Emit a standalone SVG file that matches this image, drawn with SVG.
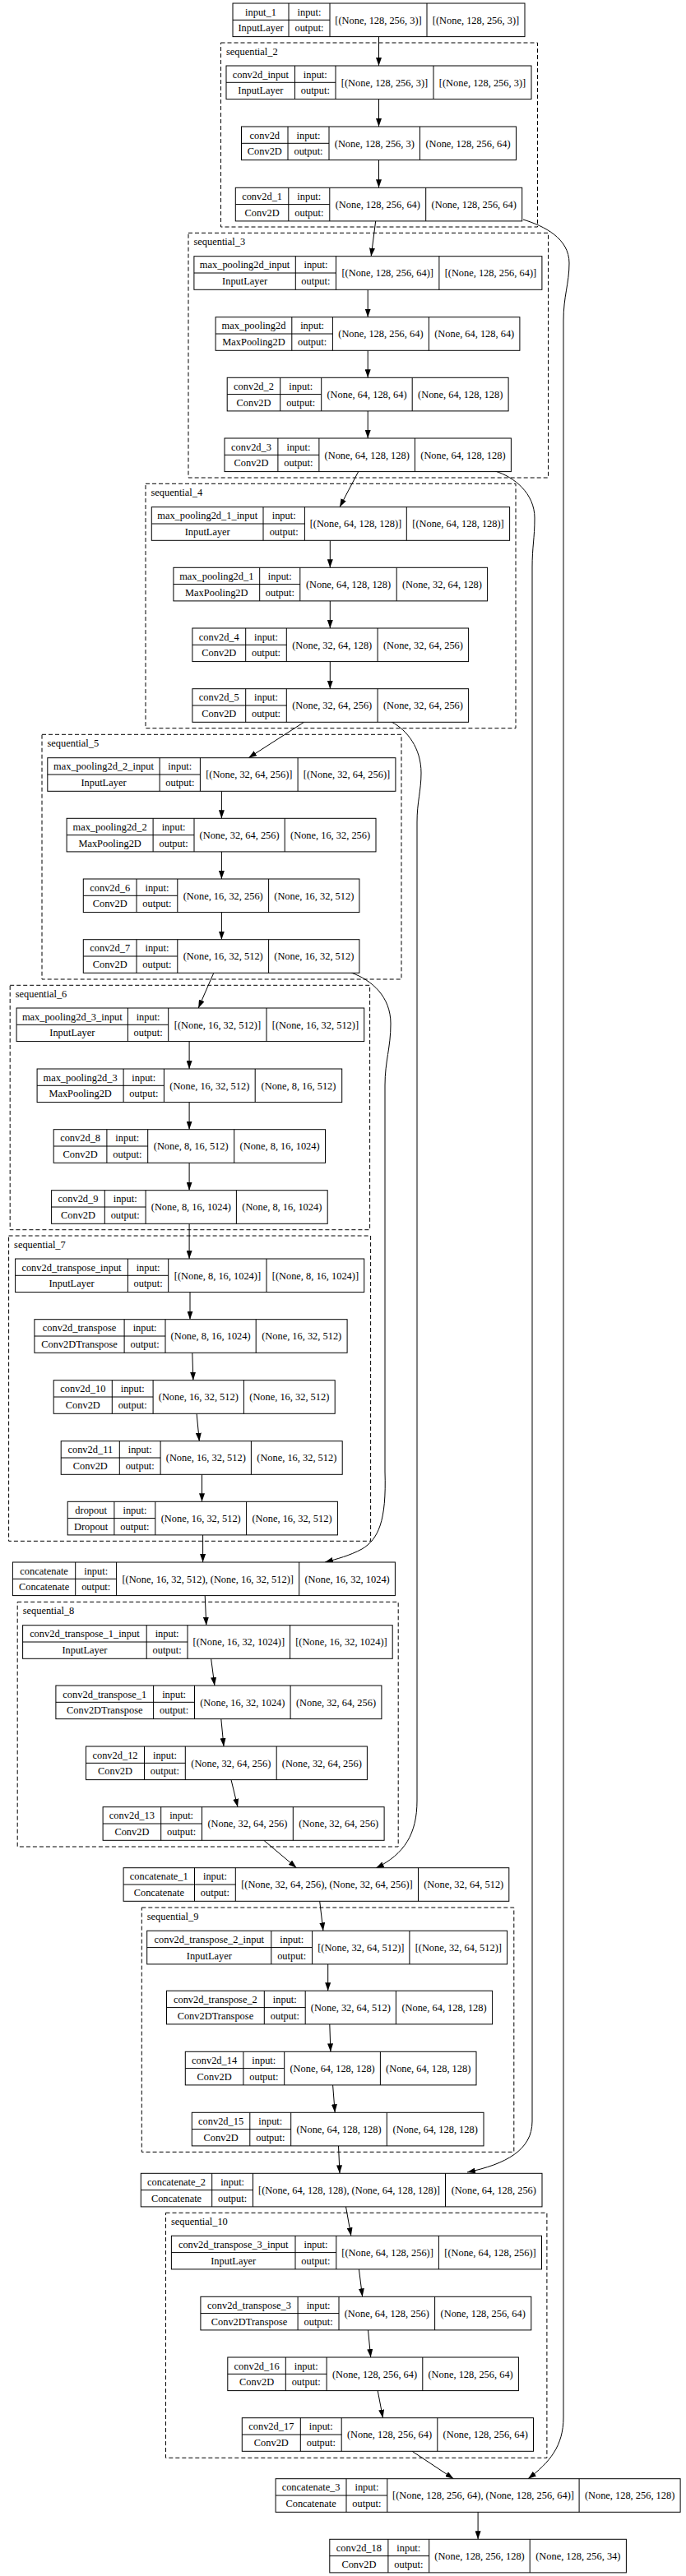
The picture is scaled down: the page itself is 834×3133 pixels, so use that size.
<svg xmlns="http://www.w3.org/2000/svg" width="834" height="3133" viewBox="0 0 834 3133">
<style>
text{font-family:"Liberation Serif","Times New Roman",serif;font-size:12.4px;fill:#000;text-anchor:middle}
.cl rect{fill:none;stroke:#000;stroke-width:1;stroke-dasharray:5,3}
.cl text{text-anchor:start}
.node rect{fill:#fff;stroke:#000;stroke-width:1}
.node path{fill:none;stroke:#000;stroke-width:1}
.edges path{fill:none;stroke:#000;stroke-width:1;marker-end:url(#ah)}
</style>
<defs>
<marker id="ah" markerWidth="10" markerHeight="7" refX="10" refY="3.5" orient="auto" markerUnits="userSpaceOnUse"><path d="M0,0L10,3.5L0,7z" fill="#000"/></marker>
</defs>
<rect width="834" height="3133" fill="#fff"/>
<g id="clusters">
<g id="sequential_2" class="cl"><rect x="268.5" y="52" width="385" height="224"/><text x="275" y="66.7">sequential_2</text></g>
<g id="sequential_3" class="cl"><rect x="229" y="283.3" width="437.5" height="297.7"/><text x="235.5" y="298">sequential_3</text></g>
<g id="sequential_4" class="cl"><rect x="177" y="588.3" width="450" height="297.4"/><text x="183.5" y="603">sequential_4</text></g>
<g id="sequential_5" class="cl"><rect x="51" y="893.3" width="437" height="297.7"/><text x="57.5" y="908">sequential_5</text></g>
<g id="sequential_6" class="cl"><rect x="12.2" y="1198.3" width="437.4" height="297.4"/><text x="18.7" y="1213">sequential_6</text></g>
<g id="sequential_7" class="cl"><rect x="10.6" y="1503" width="440" height="371.3"/><text x="17.1" y="1517.7">sequential_7</text></g>
<g id="sequential_8" class="cl"><rect x="21.2" y="1948.3" width="463" height="297.7"/><text x="27.7" y="1963">sequential_8</text></g>
<g id="sequential_9" class="cl"><rect x="172.3" y="2320" width="452.5" height="297.3"/><text x="178.8" y="2334.7">sequential_9</text></g>
<g id="sequential_10" class="cl"><rect x="201.5" y="2691.3" width="463.4" height="298"/><text x="208" y="2706">sequential_10</text></g>
</g>
<g id="connectors" class="edges">
<path d="M460.5,44.6L460.5,80"/>
<path d="M460.5,120.6L460.5,154"/>
<path d="M460.5,194.6L460.5,228.3"/>
<path d="M456.7,268.9L451.2,311.7"/>
<path d="M447.2,352.3V385.7"/>
<path d="M447.2,426.3V459.3"/>
<path d="M447.2,499.9V533"/>
<path d="M435.7,573.6L413,616.7"/>
<path d="M401.3,657.3V690.3"/>
<path d="M401.3,730.9V764"/>
<path d="M401.3,804.6V837.7"/>
<path d="M369.6,878.3L302.2,921.7"/>
<path d="M269.4,962.3V995.3"/>
<path d="M269.4,1035.9V1069"/>
<path d="M269.4,1109.6V1142.7"/>
<path d="M259.8,1183.3L241.2,1226"/>
<path d="M230.1,1266.6V1300"/>
<path d="M230.1,1340.6V1373.7"/>
<path d="M230.1,1414.3V1447.7"/>
<path d="M230.1,1488.3V1531"/>
<path d="M231,1571.6V1604.7"/>
<path d="M233.8,1645.3L234.9,1678.7"/>
<path d="M239.1,1719.3L242.3,1752.7"/>
<path d="M245.5,1793.3V1826.3"/>
<path d="M246.6,1866.9V1900"/>
<path d="M249.2,1940.6L250.8,1976.7"/>
<path d="M256.6,2017.3L260.9,2050"/>
<path d="M268.8,2090.6L272,2124"/>
<path d="M281,2164.6L289,2197.7"/>
<path d="M320.8,2238.3L360.5,2271.7"/>
<path d="M388.7,2312.3L392.9,2348.3"/>
<path d="M398.7,2388.9V2421.3"/>
<path d="M400.8,2461.9L401.9,2495.3"/>
<path d="M404.6,2535.9L407.2,2569.3"/>
<path d="M411.5,2609.9L413,2643.3"/>
<path d="M420.5,2683.9L426.8,2719.3"/>
<path d="M436.4,2759.9L440.6,2793.3"/>
<path d="M447.5,2833.9L450.7,2867"/>
<path d="M459.2,2907.6L465.5,2940.7"/>
<path d="M501.1,2981.3L551.4,3014.7"/>
<path d="M581.1,3055.3V3088.3"/>
<path d="M636,267C662,275 692,290 692,320C692,345 685,360 685,390L685,2940C685,2975 668,2995 642,3014.7"/>
<path d="M602,573C625,580 650,600 650,630C650,655 647,665 647,690L647,2580C647,2615 615,2632 568,2642"/>
<path d="M476,878C495,888 512,910 512,940C512,962 507,975 507,1000L507,2190C507,2230 492,2255 457,2272"/>
<path d="M427,1183C452,1192 475,1212 475,1245C475,1275 468,1290 468,1320L468,1790C470,1850 460,1872 440,1884C425,1892 410,1896 395,1900"/>
</g>
<g id="nodes">
<g id="input_1" class="node"><rect x="283" y="4" width="355" height="40.6"/><path d="M351 4v40.6M401 4v40.6M519 4v40.6M283 24.3h118"/><text x="317" y="18.6">input_1</text><text x="317" y="38.3">InputLayer</text><text x="376" y="18.6">input:</text><text x="376" y="38.3">output:</text><text x="460" y="28.6">[(None, 128, 256, 3)]</text><text x="578.5" y="28.6">[(None, 128, 256, 3)]</text></g>
<g id="conv2d_input" class="node"><rect x="275" y="80" width="371" height="40.6"/><path d="M358.5 80v40.6M408 80v40.6M527 80v40.6M275 100.3h133"/><text x="316.8" y="94.6">conv2d_input</text><text x="316.8" y="114.3">InputLayer</text><text x="383.3" y="94.6">input:</text><text x="383.3" y="114.3">output:</text><text x="467.5" y="104.6">[(None, 128, 256, 3)]</text><text x="586.5" y="104.6">[(None, 128, 256, 3)]</text></g>
<g id="conv2d" class="node"><rect x="293.5" y="154" width="334" height="40.6"/><path d="M350 154v40.6M400 154v40.6M510.5 154v40.6M293.5 174.3h106.5"/><text x="321.8" y="168.6">conv2d</text><text x="321.8" y="188.3">Conv2D</text><text x="375" y="168.6">input:</text><text x="375" y="188.3">output:</text><text x="455.3" y="178.6">(None, 128, 256, 3)</text><text x="569" y="178.6">(None, 128, 256, 64)</text></g>
<g id="conv2d_1" class="node"><rect x="286.3" y="228.3" width="348.4" height="40.6"/><path d="M350.8 228.3v40.6M400.8 228.3v40.6M517.7 228.3v40.6M286.3 248.6h114.5"/><text x="318.6" y="242.9">conv2d_1</text><text x="318.6" y="262.6">Conv2D</text><text x="375.8" y="242.9">input:</text><text x="375.8" y="262.6">output:</text><text x="459.3" y="252.9">(None, 128, 256, 64)</text><text x="576.2" y="252.9">(None, 128, 256, 64)</text></g>
<g id="max_pooling2d_input" class="node"><rect x="235.9" y="311.7" width="423" height="40.6"/><path d="M359.3 311.7v40.6M408.5 311.7v40.6M533.9 311.7v40.6M235.9 332h172.6"/><text x="297.6" y="326.3">max_pooling2d_input</text><text x="297.6" y="346">InputLayer</text><text x="383.9" y="326.3">input:</text><text x="383.9" y="346">output:</text><text x="471.2" y="336.3">[(None, 128, 256, 64)]</text><text x="596.4" y="336.3">[(None, 128, 256, 64)]</text></g>
<g id="max_pooling2d" class="node"><rect x="262.1" y="385.7" width="369.8" height="40.6"/><path d="M354.8 385.7v40.6M404.4 385.7v40.6M521.4 385.7v40.6M262.1 406h142.3"/><text x="308.5" y="400.3">max_pooling2d</text><text x="308.5" y="420">MaxPooling2D</text><text x="379.6" y="400.3">input:</text><text x="379.6" y="420">output:</text><text x="462.9" y="410.3">(None, 128, 256, 64)</text><text x="576.7" y="410.3">(None, 64, 128, 64)</text></g>
<g id="conv2d_2" class="node"><rect x="276.2" y="459.3" width="341.9" height="40.6"/><path d="M340.7 459.3v40.6M390.7 459.3v40.6M501.2 459.3v40.6M276.2 479.6h114.5"/><text x="308.5" y="473.9">conv2d_2</text><text x="308.5" y="493.6">Conv2D</text><text x="365.7" y="473.9">input:</text><text x="365.7" y="493.6">output:</text><text x="446" y="483.9">(None, 64, 128, 64)</text><text x="559.7" y="483.9">(None, 64, 128, 128)</text></g>
<g id="conv2d_3" class="node"><rect x="273" y="533" width="348.4" height="40.6"/><path d="M337.9 533v40.6M387.9 533v40.6M504.4 533v40.6M273 553.3h114.9"/><text x="305.5" y="547.6">conv2d_3</text><text x="305.5" y="567.3">Conv2D</text><text x="362.9" y="547.6">input:</text><text x="362.9" y="567.3">output:</text><text x="446.2" y="557.6">(None, 64, 128, 128)</text><text x="562.9" y="557.6">(None, 64, 128, 128)</text></g>
<g id="max_pooling2d_1_input" class="node"><rect x="184.3" y="616.7" width="435.3" height="40.6"/><path d="M320 616.7v40.6M370.4 616.7v40.6M494.3 616.7v40.6M184.3 637h186.1"/><text x="252.2" y="631.3">max_pooling2d_1_input</text><text x="252.2" y="651">InputLayer</text><text x="345.2" y="631.3">input:</text><text x="345.2" y="651">output:</text><text x="432.4" y="641.3">[(None, 64, 128, 128)]</text><text x="557" y="641.3">[(None, 64, 128, 128)]</text></g>
<g id="max_pooling2d_1" class="node"><rect x="210.9" y="690.3" width="381.7" height="40.6"/><path d="M315.7 690.3v40.6M364.8 690.3v40.6M482.2 690.3v40.6M210.9 710.6h153.9"/><text x="263.3" y="704.9">max_pooling2d_1</text><text x="263.3" y="724.6">MaxPooling2D</text><text x="340.3" y="704.9">input:</text><text x="340.3" y="724.6">output:</text><text x="423.5" y="714.9">(None, 64, 128, 128)</text><text x="537.4" y="714.9">(None, 32, 64, 128)</text></g>
<g id="conv2d_4" class="node"><rect x="233.9" y="764" width="335.7" height="40.6"/><path d="M298.7 764v40.6M348.3 764v40.6M459.1 764v40.6M233.9 784.3h114.4"/><text x="266.3" y="778.6">conv2d_4</text><text x="266.3" y="798.3">Conv2D</text><text x="323.5" y="778.6">input:</text><text x="323.5" y="798.3">output:</text><text x="403.7" y="788.6">(None, 32, 64, 128)</text><text x="514.4" y="788.6">(None, 32, 64, 256)</text></g>
<g id="conv2d_5" class="node"><rect x="233.9" y="837.7" width="335.7" height="40.6"/><path d="M298.7 837.7v40.6M348.3 837.7v40.6M459.1 837.7v40.6M233.9 858h114.4"/><text x="266.3" y="852.3">conv2d_5</text><text x="266.3" y="872">Conv2D</text><text x="323.5" y="852.3">input:</text><text x="323.5" y="872">output:</text><text x="403.7" y="862.3">(None, 32, 64, 256)</text><text x="514.4" y="862.3">(None, 32, 64, 256)</text></g>
<g id="max_pooling2d_2_input" class="node"><rect x="57.8" y="921.7" width="423.1" height="40.6"/><path d="M194.1 921.7v40.6M243.4 921.7v40.6M362.1 921.7v40.6M57.8 942h185.6"/><text x="126" y="936.3">max_pooling2d_2_input</text><text x="126" y="956">InputLayer</text><text x="218.8" y="936.3">input:</text><text x="218.8" y="956">output:</text><text x="302.8" y="946.3">[(None, 32, 64, 256)]</text><text x="421.5" y="946.3">[(None, 32, 64, 256)]</text></g>
<g id="max_pooling2d_2" class="node"><rect x="81.1" y="995.3" width="375.9" height="40.6"/><path d="M186.1 995.3v40.6M236 995.3v40.6M346.2 995.3v40.6M81.1 1015.6h154.9"/><text x="133.6" y="1009.9">max_pooling2d_2</text><text x="133.6" y="1029.6">MaxPooling2D</text><text x="211.1" y="1009.9">input:</text><text x="211.1" y="1029.6">output:</text><text x="291.1" y="1019.9">(None, 32, 64, 256)</text><text x="401.6" y="1019.9">(None, 16, 32, 256)</text></g>
<g id="conv2d_6" class="node"><rect x="101.3" y="1069" width="335.6" height="40.6"/><path d="M166 1069v40.6M215.8 1069v40.6M326.6 1069v40.6M101.3 1089.3h114.5"/><text x="133.7" y="1083.6">conv2d_6</text><text x="133.7" y="1103.3">Conv2D</text><text x="190.9" y="1083.6">input:</text><text x="190.9" y="1103.3">output:</text><text x="271.2" y="1093.6">(None, 16, 32, 256)</text><text x="381.8" y="1093.6">(None, 16, 32, 512)</text></g>
<g id="conv2d_7" class="node"><rect x="101.3" y="1142.7" width="335.6" height="40.6"/><path d="M166 1142.7v40.6M215.8 1142.7v40.6M326.6 1142.7v40.6M101.3 1163h114.5"/><text x="133.7" y="1157.3">conv2d_7</text><text x="133.7" y="1177">Conv2D</text><text x="190.9" y="1157.3">input:</text><text x="190.9" y="1177">output:</text><text x="271.2" y="1167.3">(None, 16, 32, 512)</text><text x="381.8" y="1167.3">(None, 16, 32, 512)</text></g>
<g id="max_pooling2d_3_input" class="node"><rect x="20.1" y="1226" width="422.6" height="40.6"/><path d="M155.4 1226v40.6M204.7 1226v40.6M324 1226v40.6M20.1 1246.3h184.6"/><text x="87.8" y="1240.6">max_pooling2d_3_input</text><text x="87.8" y="1260.3">InputLayer</text><text x="180.1" y="1240.6">input:</text><text x="180.1" y="1260.3">output:</text><text x="264.4" y="1250.6">[(None, 16, 32, 512)]</text><text x="383.4" y="1250.6">[(None, 16, 32, 512)]</text></g>
<g id="max_pooling2d_3" class="node"><rect x="45.1" y="1300" width="370.6" height="40.6"/><path d="M150.1 1300v40.6M199.4 1300v40.6M310.2 1300v40.6M45.1 1320.3h154.3"/><text x="97.6" y="1314.6">max_pooling2d_3</text><text x="97.6" y="1334.3">MaxPooling2D</text><text x="174.8" y="1314.6">input:</text><text x="174.8" y="1334.3">output:</text><text x="254.8" y="1324.6">(None, 16, 32, 512)</text><text x="363" y="1324.6">(None, 8, 16, 512)</text></g>
<g id="conv2d_8" class="node"><rect x="65.2" y="1373.7" width="330.3" height="40.6"/><path d="M129.9 1373.7v40.6M179.7 1373.7v40.6M284.7 1373.7v40.6M65.2 1394h114.5"/><text x="97.6" y="1388.3">conv2d_8</text><text x="97.6" y="1408">Conv2D</text><text x="154.8" y="1388.3">input:</text><text x="154.8" y="1408">output:</text><text x="232.2" y="1398.3">(None, 8, 16, 512)</text><text x="340.1" y="1398.3">(None, 8, 16, 1024)</text></g>
<g id="conv2d_9" class="node"><rect x="62.6" y="1447.7" width="335.6" height="40.6"/><path d="M127.3 1447.7v40.6M177.1 1447.7v40.6M287.4 1447.7v40.6M62.6 1468h114.5"/><text x="95" y="1462.3">conv2d_9</text><text x="95" y="1482">Conv2D</text><text x="152.2" y="1462.3">input:</text><text x="152.2" y="1482">output:</text><text x="232.3" y="1472.3">(None, 8, 16, 1024)</text><text x="342.8" y="1472.3">(None, 8, 16, 1024)</text></g>
<g id="conv2d_transpose_input" class="node"><rect x="18.6" y="1531" width="424.1" height="40.6"/><path d="M155.4 1531v40.6M204.7 1531v40.6M324 1531v40.6M18.6 1551.3h186.1"/><text x="87" y="1545.6">conv2d_transpose_input</text><text x="87" y="1565.3">InputLayer</text><text x="180.1" y="1545.6">input:</text><text x="180.1" y="1565.3">output:</text><text x="264.4" y="1555.6">[(None, 8, 16, 1024)]</text><text x="383.4" y="1555.6">[(None, 8, 16, 1024)]</text></g>
<g id="conv2d_transpose" class="node"><rect x="41.9" y="1604.7" width="380.2" height="40.6"/><path d="M151.1 1604.7v40.6M201 1604.7v40.6M311.2 1604.7v40.6M41.9 1625h159.1"/><text x="96.5" y="1619.3">conv2d_transpose</text><text x="96.5" y="1639">Conv2DTranspose</text><text x="176.1" y="1619.3">input:</text><text x="176.1" y="1639">output:</text><text x="256.1" y="1629.3">(None, 8, 16, 1024)</text><text x="366.7" y="1629.3">(None, 16, 32, 512)</text></g>
<g id="conv2d_10" class="node"><rect x="65.2" y="1678.7" width="342" height="40.6"/><path d="M136.3 1678.7v40.6M186.1 1678.7v40.6M296.4 1678.7v40.6M65.2 1699h120.9"/><text x="100.8" y="1693.3">conv2d_10</text><text x="100.8" y="1713">Conv2D</text><text x="161.2" y="1693.3">input:</text><text x="161.2" y="1713">output:</text><text x="241.3" y="1703.3">(None, 16, 32, 512)</text><text x="351.8" y="1703.3">(None, 16, 32, 512)</text></g>
<g id="conv2d_11" class="node"><rect x="74.2" y="1752.7" width="342" height="40.6"/><path d="M145.3 1752.7v40.6M195.1 1752.7v40.6M305.4 1752.7v40.6M74.2 1773h120.9"/><text x="109.8" y="1767.3">conv2d_11</text><text x="109.8" y="1787">Conv2D</text><text x="170.2" y="1767.3">input:</text><text x="170.2" y="1787">output:</text><text x="250.3" y="1777.3">(None, 16, 32, 512)</text><text x="360.8" y="1777.3">(None, 16, 32, 512)</text></g>
<g id="dropout" class="node"><rect x="82.2" y="1826.3" width="328.2" height="40.6"/><path d="M138.9 1826.3v40.6M188.8 1826.3v40.6M299.6 1826.3v40.6M82.2 1846.6h106.6"/><text x="110.6" y="1840.9">dropout</text><text x="110.6" y="1860.6">Dropout</text><text x="163.9" y="1840.9">input:</text><text x="163.9" y="1860.6">output:</text><text x="244.2" y="1850.9">(None, 16, 32, 512)</text><text x="355" y="1850.9">(None, 16, 32, 512)</text></g>
<g id="concatenate" class="node"><rect x="15.4" y="1900" width="465" height="40.6"/><path d="M91.7 1900v40.6M141.6 1900v40.6M363.7 1900v40.6M15.4 1920.3h126.2"/><text x="53.6" y="1914.6">concatenate</text><text x="53.6" y="1934.3">Concatenate</text><text x="116.7" y="1914.6">input:</text><text x="116.7" y="1934.3">output:</text><text x="252.7" y="1924.6">[(None, 16, 32, 512), (None, 16, 32, 512)]</text><text x="422.1" y="1924.6">(None, 16, 32, 1024)</text></g>
<g id="conv2d_transpose_1_input" class="node"><rect x="27.6" y="1976.7" width="449.6" height="40.6"/><path d="M178.2 1976.7v40.6M228 1976.7v40.6M352.6 1976.7v40.6M27.6 1997h200.4"/><text x="102.9" y="1991.3">conv2d_transpose_1_input</text><text x="102.9" y="2011">InputLayer</text><text x="203.1" y="1991.3">input:</text><text x="203.1" y="2011">output:</text><text x="290.3" y="2001.3">[(None, 16, 32, 1024)]</text><text x="414.9" y="2001.3">[(None, 16, 32, 1024)]</text></g>
<g id="conv2d_transpose_1" class="node"><rect x="67.9" y="2050" width="396" height="40.6"/><path d="M186.6 2050v40.6M236.5 2050v40.6M353.1 2050v40.6M67.9 2070.3h168.6"/><text x="127.3" y="2064.6">conv2d_transpose_1</text><text x="127.3" y="2084.3">Conv2DTranspose</text><text x="211.6" y="2064.6">input:</text><text x="211.6" y="2084.3">output:</text><text x="294.8" y="2074.6">(None, 16, 32, 1024)</text><text x="408.5" y="2074.6">(None, 32, 64, 256)</text></g>
<g id="conv2d_12" class="node"><rect x="104.5" y="2124" width="341.9" height="40.6"/><path d="M175.5 2124v40.6M225.3 2124v40.6M336.2 2124v40.6M104.5 2144.3h120.8"/><text x="140" y="2138.6">conv2d_12</text><text x="140" y="2158.3">Conv2D</text><text x="200.4" y="2138.6">input:</text><text x="200.4" y="2158.3">output:</text><text x="280.8" y="2148.6">(None, 32, 64, 256)</text><text x="391.3" y="2148.6">(None, 32, 64, 256)</text></g>
<g id="conv2d_13" class="node"><rect x="125.1" y="2197.7" width="342" height="40.6"/><path d="M195.7 2197.7v40.6M245.5 2197.7v40.6M356.3 2197.7v40.6M125.1 2218h120.4"/><text x="160.4" y="2212.3">conv2d_13</text><text x="160.4" y="2232">Conv2D</text><text x="220.6" y="2212.3">input:</text><text x="220.6" y="2232">output:</text><text x="300.9" y="2222.3">(None, 32, 64, 256)</text><text x="411.7" y="2222.3">(None, 32, 64, 256)</text></g>
<g id="concatenate_1" class="node"><rect x="150.1" y="2271.7" width="468.7" height="40.6"/><path d="M236.5 2271.7v40.6M286.3 2271.7v40.6M508.5 2271.7v40.6M150.1 2292h136.2"/><text x="193.3" y="2286.3">concatenate_1</text><text x="193.3" y="2306">Concatenate</text><text x="261.4" y="2286.3">input:</text><text x="261.4" y="2306">output:</text><text x="397.4" y="2296.3">[(None, 32, 64, 256), (None, 32, 64, 256)]</text><text x="563.7" y="2296.3">(None, 32, 64, 512)</text></g>
<g id="conv2d_transpose_2_input" class="node"><rect x="178.7" y="2348.3" width="437.9" height="40.6"/><path d="M329.8 2348.3v40.6M379.6 2348.3v40.6M497.9 2348.3v40.6M178.7 2368.6h200.9"/><text x="254.3" y="2362.9">conv2d_transpose_2_input</text><text x="254.3" y="2382.6">InputLayer</text><text x="354.7" y="2362.9">input:</text><text x="354.7" y="2382.6">output:</text><text x="438.8" y="2372.9">[(None, 32, 64, 512)]</text><text x="557.3" y="2372.9">[(None, 32, 64, 512)]</text></g>
<g id="conv2d_transpose_2" class="node"><rect x="202.5" y="2421.3" width="396.1" height="40.6"/><path d="M321.3 2421.3v40.6M371.2 2421.3v40.6M481.4 2421.3v40.6M202.5 2441.6h168.7"/><text x="261.9" y="2435.9">conv2d_transpose_2</text><text x="261.9" y="2455.6">Conv2DTranspose</text><text x="346.3" y="2435.9">input:</text><text x="346.3" y="2455.6">output:</text><text x="426.3" y="2445.9">(None, 32, 64, 512)</text><text x="540" y="2445.9">(None, 64, 128, 128)</text></g>
<g id="conv2d_14" class="node"><rect x="225.3" y="2495.3" width="353.7" height="40.6"/><path d="M295.9 2495.3v40.6M345.7 2495.3v40.6M462.4 2495.3v40.6M225.3 2515.6h120.4"/><text x="260.6" y="2509.9">conv2d_14</text><text x="260.6" y="2529.6">Conv2D</text><text x="320.8" y="2509.9">input:</text><text x="320.8" y="2529.6">output:</text><text x="404.1" y="2519.9">(None, 64, 128, 128)</text><text x="520.7" y="2519.9">(None, 64, 128, 128)</text></g>
<g id="conv2d_15" class="node"><rect x="233.3" y="2569.3" width="354.7" height="40.6"/><path d="M303.8 2569.3v40.6M353.7 2569.3v40.6M470.3 2569.3v40.6M233.3 2589.6h120.4"/><text x="268.6" y="2583.9">conv2d_15</text><text x="268.6" y="2603.6">Conv2D</text><text x="328.8" y="2583.9">input:</text><text x="328.8" y="2603.6">output:</text><text x="412" y="2593.9">(None, 64, 128, 128)</text><text x="529.2" y="2593.9">(None, 64, 128, 128)</text></g>
<g id="concatenate_2" class="node"><rect x="171.3" y="2643.3" width="487.7" height="40.6"/><path d="M257.7 2643.3v40.6M307.5 2643.3v40.6M541.5 2643.3v40.6M171.3 2663.6h136.2"/><text x="214.5" y="2657.9">concatenate_2</text><text x="214.5" y="2677.6">Concatenate</text><text x="282.6" y="2657.9">input:</text><text x="282.6" y="2677.6">output:</text><text x="424.5" y="2667.9">[(None, 64, 128, 128), (None, 64, 128, 128)]</text><text x="600.3" y="2667.9">(None, 64, 128, 256)</text></g>
<g id="conv2d_transpose_3_input" class="node"><rect x="208.4" y="2719.3" width="450.1" height="40.6"/><path d="M359 2719.3v40.6M408.8 2719.3v40.6M533.4 2719.3v40.6M208.4 2739.6h200.4"/><text x="283.7" y="2733.9">conv2d_transpose_3_input</text><text x="283.7" y="2753.6">InputLayer</text><text x="383.9" y="2733.9">input:</text><text x="383.9" y="2753.6">output:</text><text x="471.1" y="2743.9">[(None, 64, 128, 256)]</text><text x="596" y="2743.9">[(None, 64, 128, 256)]</text></g>
<g id="conv2d_transpose_3" class="node"><rect x="243.9" y="2793.3" width="401.9" height="40.6"/><path d="M362.1 2793.3v40.6M412 2793.3v40.6M528.6 2793.3v40.6M243.9 2813.6h168.1"/><text x="303" y="2807.9">conv2d_transpose_3</text><text x="303" y="2827.6">Conv2DTranspose</text><text x="387.1" y="2807.9">input:</text><text x="387.1" y="2827.6">output:</text><text x="470.3" y="2817.9">(None, 64, 128, 256)</text><text x="587.2" y="2817.9">(None, 128, 256, 64)</text></g>
<g id="conv2d_16" class="node"><rect x="276.8" y="2867" width="353.6" height="40.6"/><path d="M347.3 2867v40.6M397.1 2867v40.6M513.8 2867v40.6M276.8 2887.3h120.3"/><text x="312.1" y="2881.6">conv2d_16</text><text x="312.1" y="2901.3">Conv2D</text><text x="372.2" y="2881.6">input:</text><text x="372.2" y="2901.3">output:</text><text x="455.5" y="2891.6">(None, 128, 256, 64)</text><text x="572.1" y="2891.6">(None, 128, 256, 64)</text></g>
<g id="conv2d_17" class="node"><rect x="294.3" y="2940.7" width="354.2" height="40.6"/><path d="M365.3 2940.7v40.6M415.2 2940.7v40.6M531.8 2940.7v40.6M294.3 2961h120.9"/><text x="329.8" y="2955.3">conv2d_17</text><text x="329.8" y="2975">Conv2D</text><text x="390.3" y="2955.3">input:</text><text x="390.3" y="2975">output:</text><text x="473.5" y="2965.3">(None, 128, 256, 64)</text><text x="590.2" y="2965.3">(None, 128, 256, 64)</text></g>
<g id="concatenate_3" class="node"><rect x="335.1" y="3014.7" width="492" height="40.6"/><path d="M421 3014.7v40.6M470.8 3014.7v40.6M704.1 3014.7v40.6M335.1 3035h135.7"/><text x="378.1" y="3029.3">concatenate_3</text><text x="378.1" y="3049">Concatenate</text><text x="445.9" y="3029.3">input:</text><text x="445.9" y="3049">output:</text><text x="587.5" y="3039.3">[(None, 128, 256, 64), (None, 128, 256, 64)]</text><text x="765.6" y="3039.3">(None, 128, 256, 128)</text></g>
<g id="conv2d_18" class="node"><rect x="400.8" y="3088.3" width="360.6" height="40.6"/><path d="M471.9 3088.3v40.6M521.7 3088.3v40.6M644.2 3088.3v40.6M400.8 3108.6h120.9"/><text x="436.4" y="3102.9">conv2d_18</text><text x="436.4" y="3122.6">Conv2D</text><text x="496.8" y="3102.9">input:</text><text x="496.8" y="3122.6">output:</text><text x="583" y="3112.9">(None, 128, 256, 128)</text><text x="702.8" y="3112.9">(None, 128, 256, 34)</text></g>
</g>
</svg>
